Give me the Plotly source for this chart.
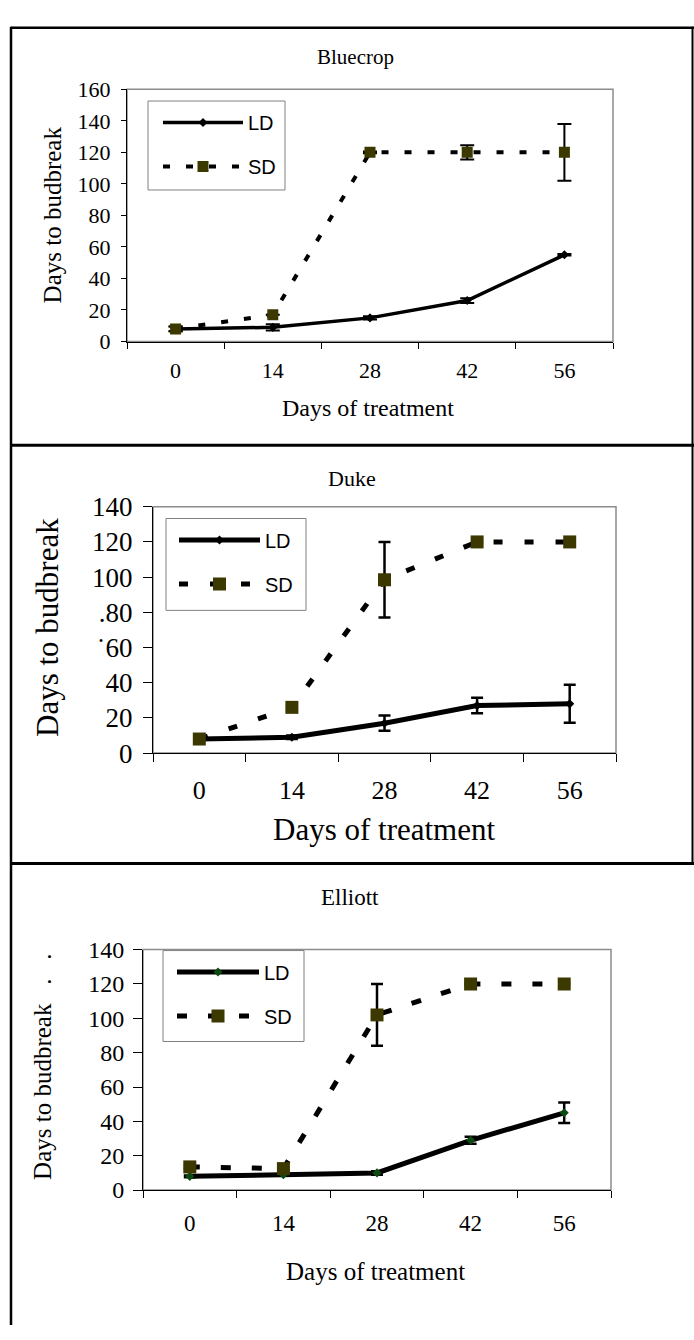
import plotly.graph_objects as go

# ---------------- data ----------------
days = ["0", "14", "28", "42", "56"]

bluecrop_ld = [8, 9, 15, 26, 55]
bluecrop_ld_err = [1.5, 2, 1, 1.5, 0.5]
bluecrop_sd = [8, 17, 120, 120, 120]
bluecrop_sd_err = [1.5, 0, 0.5, 4.5, 18]

duke_ld = [8, 9, 17, 27, 28]
duke_ld_err = [0.5, 1, 4.3, 4.4, 10.8]
duke_sd = [8, 26, 98.5, 120, 120]
duke_sd_err = [0.5, 1, 21.5, 0.5, 0.5]

elliott_ld = [8, 9, 10, 29, 45]
elliott_ld_err = [0.5, 0.5, 1, 2, 6]
elliott_sd = [13.5, 12.5, 102, 120, 120]
elliott_sd_err = [1, 1, 18, 0.5, 0.5]

titles = ["Bluecrop", "Duke", "Elliott"]
y_titles = ["Days to budbreak", "Days to budbreak", "Days to budbreak   .   ."]
x_title = "Days of treatment"
y_tickvals_160 = [0, 20, 40, 60, 80, 100, 120, 140, 160]
y_ticktext_160 = ["0", "20", "40", "60", "80", "100", "120", "140", "160"]
y_tickvals_140 = [0, 20, 40, 60, 80, 100, 120, 140]
y_ticktext_duke = ["0", "20", "40", "˙60", ".80", "100", "120", "140"]
y_ticktext_140 = ["0", "20", "40", "60", "80", "100", "120", "140"]

# ---------------- layout helpers ----------------
W, H = 694, 1340
def fx(px):
    return px / W
def fy(py):
    return 1 - py / H

SERIF = "Liberation Serif"
SANS = "Liberation Sans"
SD_COLOR = "#3b3800"

panels = [
    dict(title=titles[0], ld=bluecrop_ld, lde=bluecrop_ld_err, sd=bluecrop_sd, sde=bluecrop_sd_err,
         ld_marker="black", xdom=(127, 613), ydom=(76, 334), ymax=160,
         tickvals=y_tickvals_160, ticktext=y_ticktext_160,
         ytick_font=22, xtick_font=22, ylen=5, xlen=6, ystand=6, xstand=9,
         title_xy=(355, 43), title_font=21,
         ytitle_xy=(52, 205), ytitle_font=25, ytitle=y_titles[0],
         xtitle_xy=(368, 402), xtitle_font=24,
         legend_box=(148, 88, 285, 179), leg_x=158, leg_w=80,
         lw=3.5, sdw=4, dash="7px,16px",
         msq=11, mld=7, ebt=2, ebw=7),
    dict(title=titles[1], ld=duke_ld, lde=duke_ld_err, sd=duke_sd, sde=duke_sd_err,
         ld_marker="black", xdom=(153, 616), ydom=(503, 755), ymax=140,
         tickvals=y_tickvals_140, ticktext=y_ticktext_duke,
         ytick_font=27, xtick_font=26, ylen=9, xlen=8, ystand=5, xstand=14,
         title_xy=(352, 474), title_font=22,
         ytitle_xy=(48, 627), ytitle_font=31, ytitle=y_titles[1],
         xtitle_xy=(384, 833), xtitle_font=31,
         legend_box=(166, 515, 306, 609), leg_x=174, leg_w=81,
         lw=5, sdw=5, dash="9px,22px",
         msq=13, mld=7, ebt=2.5, ebw=6),
    dict(title=titles[2], ld=elliott_ld, lde=elliott_ld_err, sd=elliott_sd, sde=elliott_sd_err,
         ld_marker="#0d4a12", xdom=(143, 611), ydom=(956, 1202), ymax=140,
         tickvals=y_tickvals_140, ticktext=y_ticktext_140,
         ytick_font=24, xtick_font=23, ylen=9, xlen=7, ystand=4, xstand=12,
         title_xy=(350, 903), title_font=23,
         ytitle_xy=(43, 1076), ytitle_font=25, ytitle=y_titles[2],
         xtitle_xy=(376, 1285), xtitle_font=25,
         legend_box=(163, 957, 304, 1050), leg_x=172, leg_w=82,
         lw=5, sdw=5, dash="10px,21px",
         msq=13, mld=7, ebt=2.5, ebw=6),
]

fig = go.Figure()
annotations = []
shapes = []
layout_extra = {}

for i, p in enumerate(panels, start=1):
    sfx = "" if i == 1 else str(i)
    xa, ya = "x" + sfx, "y" + sfx
    leg = "legend" + sfx
    fig.add_trace(go.Scatter(
        x=days, y=p["ld"], name="LD", mode="lines+markers", xaxis=xa, yaxis=ya,
        legend=leg, legendgroup="ld%d" % i,
        line=dict(color="black", width=p["lw"]),
        marker=dict(symbol="diamond", size=p["mld"], color=p["ld_marker"]),
        error_y=dict(type="data", array=p["lde"], color="black",
                     thickness=p["ebt"], width=p["ebw"]),
    ))
    fig.add_trace(go.Scatter(
        x=days, y=p["sd"], name="SD", mode="lines+markers", xaxis=xa, yaxis=ya,
        legend=leg, legendgroup="sd%d" % i,
        line=dict(color="black", width=p["sdw"], dash=p["dash"]),
        marker=dict(symbol="square", size=p["msq"], color=SD_COLOR),
        error_y=dict(type="data", array=p["sde"], color="black",
                     thickness=p["ebt"], width=p["ebw"]),
    ))
    x0, x1 = p["xdom"]
    y0, y1 = p["ydom"]
    layout_extra["xaxis" + sfx] = dict(
        domain=[fx(x0), fx(x1)], anchor=ya, type="category",
        categoryorder="array", categoryarray=days, range=[-0.5, 4.5],
        tickson="boundaries", ticks="outside", ticklen=p["xlen"], tickcolor="black",
        tickwidth=1, showline=True, linecolor="black", linewidth=1,
        showgrid=False, zeroline=False, ticklabelstandoff=p["xstand"],
        tickfont=dict(family=SERIF, size=p["xtick_font"], color="black"),
        fixedrange=True,
    )
    layout_extra["yaxis" + sfx] = dict(
        domain=[fy(y1), fy(y0)], anchor=xa, range=[0, p["ymax"]],
        tickmode="array", tickvals=p["tickvals"], ticktext=p["ticktext"],
        ticks="outside", ticklen=p["ylen"], tickcolor="black", tickwidth=1,
        showline=True, linecolor="black", linewidth=1, showgrid=False,
        zeroline=False, ticklabelstandoff=p["ystand"],
        tickfont=dict(family=SERIF, size=p["ytick_font"], color="black"),
        fixedrange=True,
    )
    lx0, ly0, lx1, ly1 = p["legend_box"]
    layout_extra[leg] = dict(
        x=fx(p["leg_x"]), y=fy(ly0 + 2), xanchor="left", yanchor="top",
        xref="paper", yref="paper", bgcolor="rgba(0,0,0,0)", borderwidth=0,
        font=dict(family=SANS, size=20, color="black"),
        itemwidth=p["leg_w"], tracegroupgap=15, traceorder="grouped",
        itemclick=False, itemdoubleclick=False,
    )
    # legend frame
    shapes.append(dict(type="rect", xref="paper", yref="paper",
                       x0=fx(lx0), x1=fx(lx1), y0=fy(ly1), y1=fy(ly0),
                       line=dict(color="#808080", width=1), fillcolor="white", layer="below"))
    # plot area frame (grey)
    shapes.append(dict(type="rect", xref=xa + " domain", yref=ya + " domain",
                       x0=0, x1=1, y0=0, y1=1,
                       line=dict(color="#8c8c8c", width=1.5), layer="below"))
    # titles
    tx, ty = p["title_xy"]
    annotations.append(dict(text=p["title"], x=fx(tx), y=fy(ty), xref="paper", yref="paper",
                            showarrow=False, xanchor="center", yanchor="middle",
                            font=dict(family=SERIF, size=p["title_font"], color="black")))
    tx, ty = p["ytitle_xy"]
    annotations.append(dict(text=p["ytitle"], x=fx(tx), y=fy(ty), xref="paper", yref="paper",
                            showarrow=False, xanchor="center", yanchor="middle", textangle=-90,
                            font=dict(family=SERIF, size=p["ytitle_font"], color="black")))
    tx, ty = p["xtitle_xy"]
    annotations.append(dict(text=x_title, x=fx(tx), y=fy(ty), xref="paper", yref="paper",
                            showarrow=False, xanchor="center", yanchor="middle",
                            font=dict(family=SERIF, size=p["xtitle_font"], color="black")))

# panel frames
frame = dict(color="black", width=3)
shapes.append(dict(type="line", xref="paper", yref="paper", x0=fx(11), x1=fx(694), y0=fy(13), y1=fy(13), line=dict(color="black", width=2.5)))
shapes.append(dict(type="line", xref="paper", yref="paper", x0=fx(11), x1=fx(694), y0=fy(440), y1=fy(440), line=frame))
shapes.append(dict(type="line", xref="paper", yref="paper", x0=fx(11), x1=fx(694), y0=fy(868), y1=fy(868), line=frame))
shapes.append(dict(type="line", xref="paper", yref="paper", x0=fx(11), x1=fx(11), y0=fy(12), y1=fy(1340), line=dict(color="black", width=2.5)))
shapes.append(dict(type="line", xref="paper", yref="paper", x0=fx(692.5), x1=fx(692.5), y0=fy(12), y1=fy(868), line=dict(color="black", width=2)))

fig.update_layout(
    width=W, height=H, autosize=False,
    margin=dict(l=0, r=0, t=0, b=0),
    paper_bgcolor="white", plot_bgcolor="white",
    showlegend=True,
    annotations=annotations, shapes=shapes,
    **layout_extra,
)

fig.write_html(
    "out.html",
    config={"displayModeBar": False, "staticPlot": False},
    post_script="document.body.style.margin='0';document.body.style.padding='0';"
                "document.body.style.overflow='hidden';",
)
